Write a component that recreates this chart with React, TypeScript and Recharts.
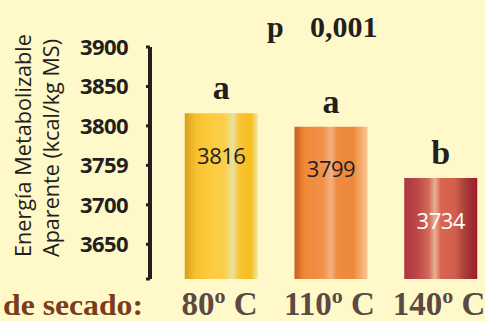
import React from "react";
import { BarChart, Bar, XAxis, YAxis, Cell, LabelList } from "recharts";

// temperatura de secado (ºC)
const categories = ["80", "110", "140"];
const values = [3816, 3799, 3734];
const letters = ["a", "a", "b"];
const yTicks = [3606, 3650, 3700, 3750, 3800, 3850, 3900];
const yTickLabels = ["", "3650", "3700", "3759", "3800", "3850", "3900"];
const pValue = "0,001";

const data = categories.map((c, i) => ({ cat: c, value: values[i], letter: letters[i] }));

const BG = "#fff8c8";
const INK = "#231f20";
const SERIF = "'Liberation Serif', 'DejaVu Serif', serif";
const SANS = "'Open Sans', 'DejaVu Sans', sans-serif";
const valueColors = [INK, INK, "#ffffff"];

// gradient stops per bar (offset %, colour)
const gradients: [number, string][][] = [
  [[0, "#d69c1e"], [14, "#f6bf2e"], [30, "#fcc93a"], [55, "#fbcf4c"], [66, "#e6e39e"], [74, "#f8c43a"], [90, "#f6bd1a"], [100, "#efe6a2"]],
  [[0, "#c55f1d"], [14, "#ef8a38"], [40, "#f3904a"], [50, "#f4b283"], [58, "#f08c40"], [80, "#ec883a"], [92, "#f5ad6e"], [100, "#f8c898"]],
  [[0, "#aa353e"], [20, "#c04a4a"], [34, "#d26c5c"], [42, "#e8b292"], [50, "#da6452"], [70, "#d25e4c"], [82, "#a8423a"], [100, "#9c1a2c"]],
];

function CatTick({ x, payload }: any) {
  return (
    <text x={x - 2} y={315} textAnchor="middle" fontFamily={SERIF} fontWeight={700} fontSize={33} fill="#5b4a43">
      <tspan>{payload.value}</tspan>
      <tspan fontSize={22} dy={-12}>o</tspan>
      <tspan dy={12}> C</tspan>
    </text>
  );
}

function ValueLabel({ x, y, width, value, index }: any) {
  return (
    <text x={x + width / 2} y={y + 43} dy="0.35em" textAnchor="middle" fontFamily={SANS} fontSize={22}
      letterSpacing={-0.5} fill={valueColors[index ?? 0]}>
      {value}
    </text>
  );
}

function LetterLabel({ x, y, width, value }: any) {
  return (
    <text x={x + width / 2} y={y - 14} textAnchor="middle" fontFamily={SERIF} fontWeight={700} fontSize={34} fill={INK}>
      {value}
    </text>
  );
}

function YTitle() {
  return (
    <g fill={INK} fontFamily={SANS} fontSize={21}>
      <text transform="translate(31,257) rotate(-90)" textLength={223} lengthAdjust="spacingAndGlyphs">Energía Metabolizable</text>
      <text transform="translate(59,257) rotate(-90)" textLength={218} lengthAdjust="spacingAndGlyphs">Aparente (kcal/kg MS)</text>
    </g>
  );
}

function ExtraText() {
  return (
    <g fontFamily={SERIF} fontWeight={700}>
      <text x={3} y={315} fontSize={30} fill="#7b3b1f" textLength={140} lengthAdjust="spacingAndGlyphs">de secado:</text>
      <text x={267} y={37} fontSize={30} fill={INK}>p</text>
      <text x={310} y={37} fontSize={30} fill={INK}>{pValue}</text>
    </g>
  );
}

export default function App() {
  return (
    <div style={{ position: "absolute", left: 0, top: 0, width: 485, height: 321, overflow: "hidden", background: BG }}>
      <BarChart width={496} height={321} data={data} margin={{ top: 47, right: 0, bottom: 0, left: 0 }} barSize={73}>
        <defs>
          {gradients.map((stops, i) => (
            <linearGradient key={i} id={`bg-${i}`} x1="0" y1="0" x2="1" y2="0">
              {stops.map(([o, c]) => (
                <stop key={o} offset={`${o}%`} stopColor={c} />
              ))}
            </linearGradient>
          ))}
        </defs>
        <XAxis dataKey="cat" axisLine={false} tickLine={false} height={42} padding={{ left: 16.75, right: 0 }}
          tick={<CatTick />} interval={0} label={{ content: () => <ExtraText /> }} />
        <YAxis domain={[3606, 3900]} ticks={yTicks} interval={0} width={150} tickSize={4} tickMargin={18}
          axisLine={{ stroke: INK, strokeWidth: 4 }} tickLine={{ stroke: INK, strokeWidth: 3 }}
          tickFormatter={(v: number) => yTickLabels[yTicks.indexOf(v)] ?? String(v)}
          tick={{ fontFamily: SANS, fontWeight: 700, fontSize: 22, fill: INK, letterSpacing: -0.6 }}
          label={{ content: () => <YTitle /> }} />
        <Bar dataKey="value" isAnimationActive={false}>
          {data.map((d, i) => (
            <Cell key={d.cat} fill={`url(#bg-${i})`} />
          ))}
          <LabelList dataKey="value" content={<ValueLabel />} />
          <LabelList dataKey="letter" content={<LetterLabel />} />
        </Bar>
      </BarChart>
    </div>
  );
}
